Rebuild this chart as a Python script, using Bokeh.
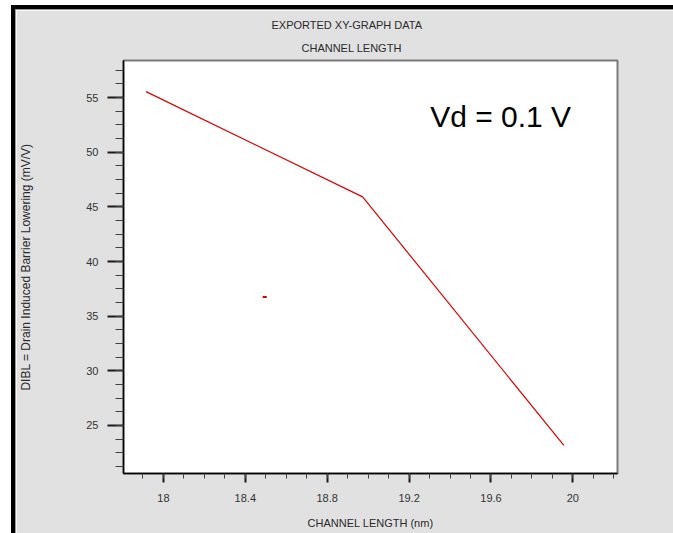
import numpy as np
from bokeh.plotting import figure
from bokeh.models import Range1d, FixedTicker, Title, Label
from bokeh.embed import file_html
from bokeh.resources import INLINE

# ---- data ----
channel_length_nm = [17.915, 18.973, 19.956]
dibl_mv_per_v = [55.55, 45.92, 23.17]
stray_x = [18.495]
stray_y = [36.76]

x_ticks = [18.0, 18.4, 18.8, 19.2, 19.6, 20.0]
x_tick_labels = ["18", "18.4", "18.8", "19.2", "19.6", "20"]
y_ticks = [25, 30, 35, 40, 45, 50, 55]
y_tick_labels = ["25", "30", "35", "40", "45", "50", "55"]

title_main = "EXPORTED XY-GRAPH DATA"
title_sub = "CHANNEL LENGTH"
x_label = "CHANNEL LENGTH (nm)"
y_label = "DIBL = Drain Induced Barrier Lowering (mV/V)"
annotation = "Vd = 0.1 V"

FONT = "Liberation Sans"
BG = "#e1e1e1"
TXT = "#2a2a2a"
RED = "#e00000"

p = figure(width=657, height=523, output_backend="svg", toolbar_location=None,
           title=None,
           x_range=Range1d(17.805, 20.218), y_range=Range1d(20.6, 58.4),
           min_border_left=103, min_border_right=56, min_border_top=50,
           min_border_bottom=60,
           background_fill_color="white", border_fill_color=BG,
           outline_line_color="#7a7a7a", outline_line_width=2)
# window edge: a black ring round the canvas; only its left and top sides
# fall inside the browser window
p.styles = {"position": "absolute", "left": "16px", "top": "10px",
            "box-shadow": "0 0 0 1px #9a9a9a, 0 0 0 5px #000000"}
p.grid.visible = False

# titles (first added sits closest to the frame)
p.add_layout(Title(text=title_sub, text_font=FONT, text_font_size="11px",
                   text_font_style="normal", text_color=TXT, align="left",
                   offset=178, standoff=14), "above")
p.add_layout(Title(text=title_main, text_font=FONT, text_font_size="11px",
                   text_font_style="normal", text_color=TXT, align="left",
                   offset=148, standoff=3), "above")

x_minor = [round(v, 1) for v in np.arange(17.8, 20.25, 0.1) if 17.805 <= v <= 20.218]
y_minor = [v for v in np.arange(20.0, 58.5, 1.25) if 20.6 <= v <= 58.4]

p.xaxis.ticker = FixedTicker(ticks=x_ticks, minor_ticks=x_minor)
p.xaxis.major_label_overrides = dict(zip(x_ticks, x_tick_labels))
p.yaxis.ticker = FixedTicker(ticks=y_ticks, minor_ticks=y_minor)
p.yaxis.major_label_overrides = dict(zip(y_ticks, y_tick_labels))

for ax in (p.xaxis, p.yaxis):
    ax.axis_line_color = "black"
    ax.axis_line_width = 1.5
    ax.major_tick_in = 0
    ax.minor_tick_in = 0
    ax.major_tick_line_color = "#1a1a1a"
    ax.major_tick_line_width = 2
    ax.minor_tick_line_color = "#404040"
    ax.minor_tick_line_width = 1
    ax.major_label_text_font = FONT
    ax.major_label_text_font_size = "11px"
    ax.major_label_text_color = "#333333"
    ax.axis_label_text_font = FONT
    ax.axis_label_text_font_size = "11px"
    ax.axis_label_text_font_style = "normal"
    ax.axis_label_text_color = TXT

p.xaxis.axis_label = x_label
p.xaxis.major_tick_out = 9
p.xaxis.minor_tick_out = 5
p.xaxis.major_label_standoff = 11
p.xaxis.axis_label_standoff = 12

p.yaxis.axis_label = y_label
p.yaxis.axis_label_text_font_size = "12px"
p.yaxis.major_tick_out = 16
p.yaxis.minor_tick_out = 8
p.yaxis.major_label_standoff = 9
p.yaxis.axis_label_standoff = 50

p.line(channel_length_nm, dibl_mv_per_v, line_color=RED, line_width=1.2)
p.scatter(stray_x, stray_y, marker="dash", size=4, line_color=RED, line_width=2)

p.add_layout(Label(x=19.303, y=53.24, text=annotation, text_font=FONT,
                   text_font_size="30px", text_color="black",
                   text_baseline="alphabetic"))

open("out.html", "w").write(file_html(p, INLINE))
